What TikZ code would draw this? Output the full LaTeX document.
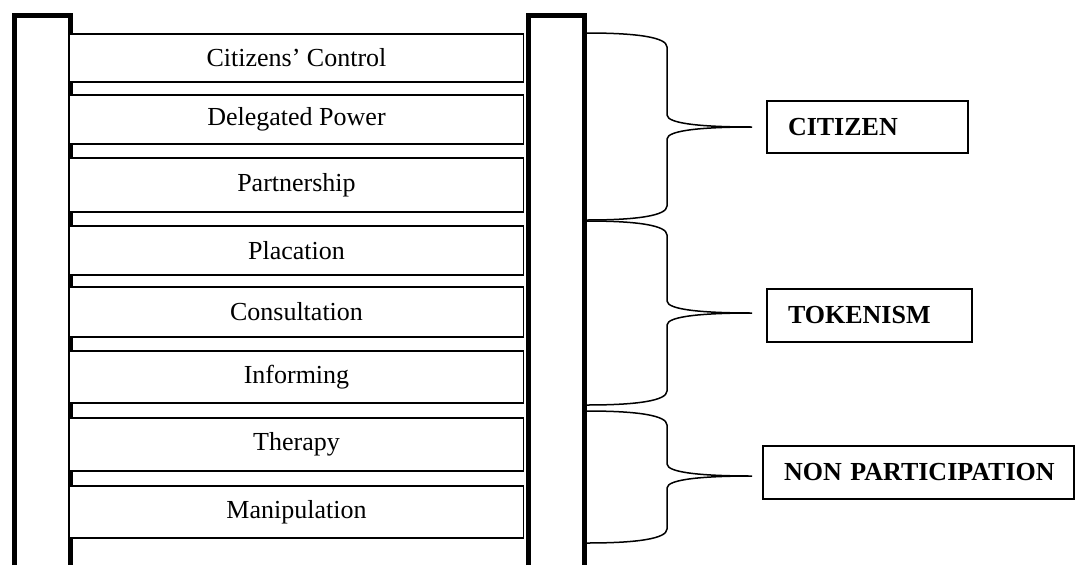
\documentclass[tikz,border=0pt]{standalone}
\usepackage{fontspec}
\setmainfont{Liberation Serif}

\tikzset{
	rail/.style={line width=5pt,line join=miter},
	rung/.style={draw,fill=white,line width=1.6pt,minimum width=454pt,inner sep=0pt,font=\fontsize{26}{30}\selectfont},
	brace/.style={line width=1.5pt},
	group/.style={draw,line width=1.4pt,inner xsep=21pt,inner ysep=0pt,align=left,font=\fontsize{26}{30}\selectfont\bfseries}
}

\begin{document}
\begin{tikzpicture}[x=1pt,y=-1pt]
				\useasboundingbox (0,0) rectangle (1076,565);
				% the two rails of the ladder
				\coordinate (LA) at (14.5,565);  \coordinate (LB) at (70.5,565);
				\coordinate (RA) at (528.5,565); \coordinate (RB) at (584.5,565);
				\draw[rail] (LA) |- (70.5,15.5) -- (LB);
				\draw[rail] (RA) |- (584.5,15.5) -- (RB);
				% rungs
				\foreach \n/\t/\b/\l in {cc/34/82/Citizens’ Control, dp/95/144/Delegated Power, pa/158/212/Partnership, pl/226/275/Placation, co/287/337/Consultation, in/351/403/Informing, th/418/471/Therapy, ma/486/538/Manipulation}{
					\node[rung,minimum height={\b-\t}] (\n) at (296.5,{(\t+\b)/2}) {\l};}
				% braces
				\foreach \t/\m/\b in {33/127/220, 221/313/405, 411/476/543}{
					\draw[brace] (587,\t) .. controls (635,\t) and (667,{\t+4}) .. (667,{\t+14}) -- (667,{\m-12})
						.. controls (667,{\m-3}) and (705,\m) .. (752,\m)
						.. controls (705,\m) and (667,{\m+3}) .. (667,{\m+12}) -- (667,{\b-14})
						.. controls (667,{\b-4}) and (635,\b) .. (587,\b);}
				% groups
				\node[group,text width=159pt,minimum height=52pt] (citizen) at (867.5,127) {CITIZEN};
				\node[group,text width=163pt,minimum height=53pt] (tokenism) at (869.5,315.5) {TOKENISM};
				\node[group,text width=269pt,minimum height=53pt] (nonpart) at (918.5,472.5) {\hbox to 269pt{NON PARTICIPATION\hss}};
			\end{tikzpicture}
\end{document}
